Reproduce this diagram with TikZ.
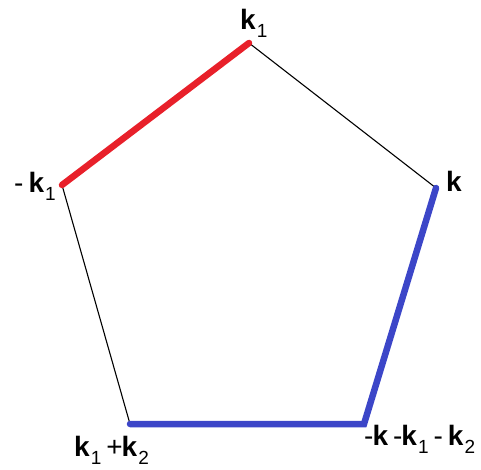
\documentclass[tikz,border=0pt]{standalone}
\usepackage{fontspec}
\setmainfont{Liberation Sans}
\usepackage{tikz}
\definecolor{EdgeRed}{HTML}{E8202A}
\definecolor{EdgeBlue}{HTML}{3C46C8}
\newcommand{\kk}{\textbf{k}}
\newcommand{\ksub}[1]{\textbf{k}\hspace{1pt}\raisebox{-8pt}{\fontsize{19}{19}\selectfont #1}}
\newcommand{\gap}{\hspace{5pt}}

\begin{document}
\begin{tikzpicture}[
    x=1pt, y=-1pt,
    lbl/.style={inner sep=0pt, anchor=base west, font=\fontsize{28}{32}\selectfont},
    thin edge/.style={draw=black, line width=1.1pt},
    red edge/.style={draw=EdgeRed, line width=6.5pt, line cap=round},
    blue edge/.style={draw=EdgeBlue, line width=6.5pt, line cap=round, line join=miter}
]
\useasboundingbox (0,0) rectangle (481,470);
% pentagon corners
\coordinate (top) at (249,43);
\coordinate (right) at (436,188);
\coordinate (br) at (364,424);
\coordinate (bl) at (130,424);
\coordinate (left) at (62,185);

\draw[thin edge] (top) -- (right);
\draw[thin edge] (left) -- (bl);
\draw[red edge] (left) -- (top);
\draw[blue edge] (right) -- (br) -- (bl);

% momentum labels
\node[lbl] (ltop) at (240,30) {\ksub{1}};
\node[lbl] (lleft) at (14,193) {-\gap\ksub{1}};
\node[lbl] (lright) at (446,192) {\kk};
\node[lbl] (lbl) at (74,456) {\ksub{1}\gap+\kern-1pt\ksub{2}};
\node[lbl] (lbr) at (364,445) {-\kern-1pt\kk\gap-\kern-1pt\ksub{1}\gap-\gap\ksub{2}};
\end{tikzpicture}
\end{document}
